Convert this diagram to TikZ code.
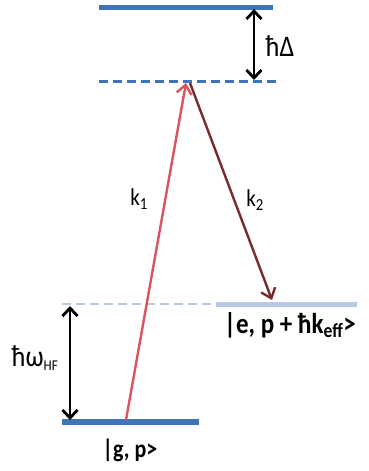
\documentclass[tikz,border=0pt]{standalone}
\usepackage{fontspec}
\setmainfont{Carlito}
\usetikzlibrary{arrows.meta}
\definecolor{lvlblue}{HTML}{3F74B9}
\definecolor{lvllight}{HTML}{B7C9E4}
\definecolor{beamone}{HTML}{D9545C}
\definecolor{beamtwo}{HTML}{7A2A2C}
\tikzset{
  level/.style={line width=5pt, lvlblue},
  vlevel/.style={line width=3pt, lvlblue, dash pattern=on 9pt off 5pt},
  gap/.style={line width=2.8pt, black, {Straight Barb[length=8pt,width=15pt,line width=2.8pt]}-{Straight Barb[length=8pt,width=15pt,line width=2.8pt]}},
  beam/.style={line width=2.4pt, -{Straight Barb[length=9pt,width=15pt,line width=2.4pt]}},
  txt/.style={inner sep=0pt, yscale=1.15, transform shape},
  lbl/.style={txt, font=\fontsize{21}{23}\selectfont},
  state/.style={txt, font=\fontsize{24}{26}\selectfont\bfseries}
}
\begin{document}
\begin{tikzpicture}[x=1pt,y=-1pt]
\useasboundingbox (0,0) rectangle (368,471);
% levels
\coordinate (tl) at (99,7); \coordinate (tr) at (273,7);
\coordinate (vl) at (99,81); \coordinate (vr) at (277,81);
\coordinate (el) at (62,304); \coordinate (em) at (216,304); \coordinate (er) at (357,304);
\coordinate (gl) at (62,422); \coordinate (gr) at (199,422);
\draw[level] (tl) -- (tr);
\draw[vlevel] (vl) -- (vr);
\draw[line width=2.5pt, lvllight, dash pattern=on 9pt off 5pt] (el) -- (em);
\draw[line width=5pt, lvllight] (em) -- (er);
\draw[level, line width=6pt] (gl) -- (gr);
% gaps
\coordinate (da) at (254,9); \coordinate (db) at (254,80);
\draw[gap] (da) -- (db);
\node[lbl, font=\fontsize{26}{28}\selectfont] (hD) at (280,46) {ħΔ};
\coordinate (ha) at (70,306); \coordinate (hb) at (70,420);
\draw[gap] (ha) -- (hb);
\node[lbl, font=\fontsize{26}{28}\selectfont] (hw) at (35,358) {ħω\textsubscript{\fontsize{13}{13}\selectfont HF}};
% beams
\coordinate (k1s) at (126,420); \coordinate (k1e) at (186,83);
\coordinate (k2s) at (190,83); \coordinate (k2e) at (272,300);
\draw[beam, beamone] (k1s) -- (k1e);
\draw[beam, beamtwo] (k2s) -- (k2e);
\node[lbl] (k1) at (139,199) {k\textsubscript{1}};
\node[lbl] (k2) at (255,200) {k\textsubscript{2}};
% states
\node[state, font=\fontsize{22}{24}\selectfont\bfseries] (g) at (130,450) {|g, p>};
\node[state, font=\fontsize{25}{27}\selectfont\bfseries] (e) at (290,325) {|e, p + ħk\textsubscript{eff}>};
\end{tikzpicture}
\end{document}
